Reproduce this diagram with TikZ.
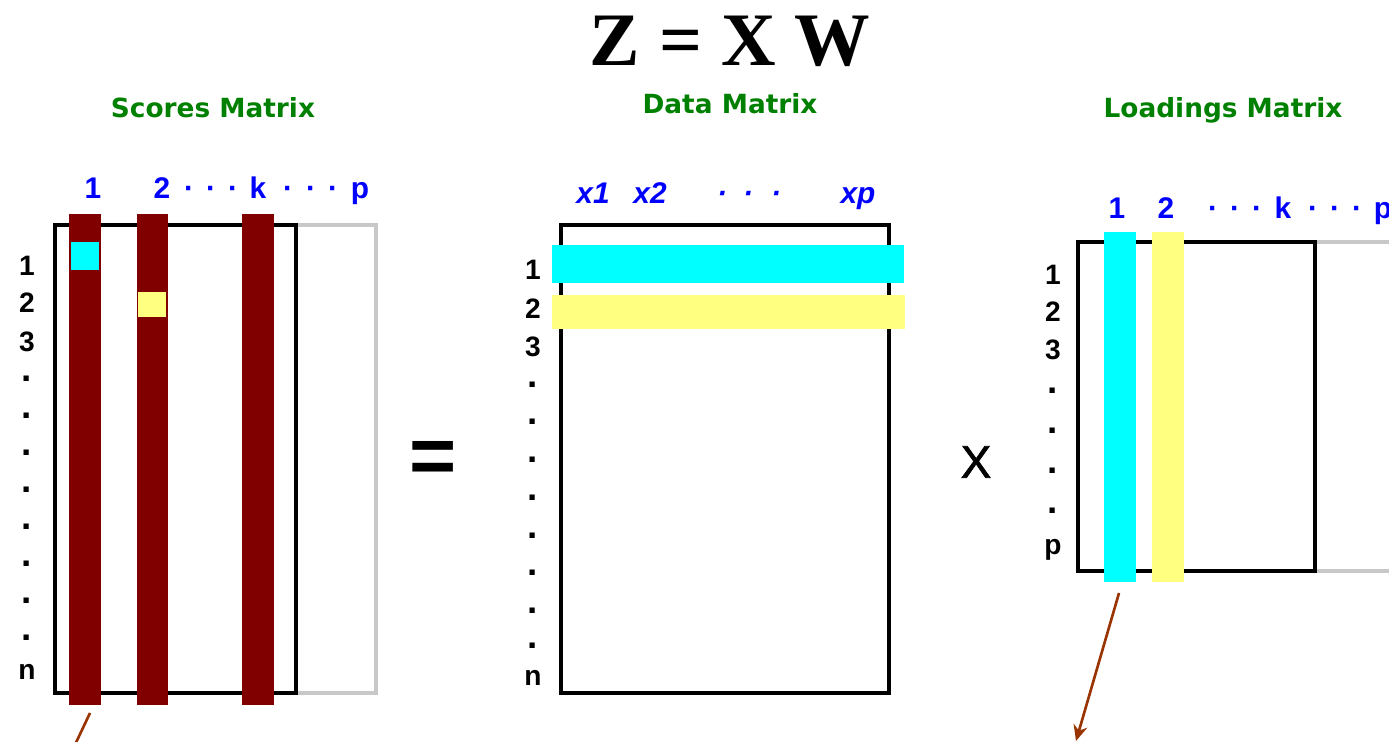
\documentclass[tikz,border=0pt]{standalone}
\usepackage{fontspec}
\setmainfont{Liberation Sans}
\newfontfamily\titlefont{Liberation Serif}
\newfontfamily\capfont{DejaVu Sans}
\usetikzlibrary{arrows.meta}
\definecolor{barred}{HTML}{800000}
\definecolor{scorecyan}{HTML}{00FFFF}
\definecolor{scoreyellow}{HTML}{FFFF80}
\definecolor{capgreen}{HTML}{008000}
\definecolor{ghostgrey}{HTML}{C8C8C8}
\definecolor{arrowbrown}{HTML}{993300}

\begin{document}
\begin{tikzpicture}[x=0.02cm, y=-0.02cm,
  hdr/.style={text=blue, font=\bfseries\fontsize{17}{17}\selectfont, inner sep=0pt, anchor=base},
  rowlbl/.style={font=\bfseries\fontsize{16}{16}\selectfont, inner sep=0pt, anchor=base},
  rowdot/.style={rowlbl, font=\bfseries\fontsize{21}{21}\selectfont},
  mtitle/.style={text=capgreen, font=\capfont\bfseries\fontsize{15}{15}\selectfont, inner sep=0pt, anchor=base},
  frame/.style={draw=black, line width=2pt},
  ghost/.style={draw=ghostgrey, line width=2pt},
  pointer/.style={-{Stealth[length=9pt,width=8pt]}, draw=arrowbrown, line width=1.5pt}]
  \useasboundingbox (0,0) rectangle (1389,741);

  % titles
  \node[inner sep=0pt, anchor=base, font=\titlefont\bfseries\fontsize{43}{43}\selectfont] (eqn) at (730,65) {Z = X W};
  \node[mtitle] (scorestitle) at (213,117) {Scores Matrix};
  \node[mtitle] (datatitle) at (730,113) {Data Matrix};
  \node[mtitle] (loadtitle) at (1223,117) {Loadings Matrix};

  % scores matrix
  \draw[ghost] (296,225) rectangle (376,693);
  \draw[frame] (55,225) rectangle (296,693);
  \fill[barred] (69,214) rectangle (101,705);
  \fill[barred] (137,214) rectangle (168,705);
  \fill[barred] (242,214) rectangle (274,705);
  \fill[scorecyan] (71,242) rectangle (99,270);
  \fill[scoreyellow] (138,292) rectangle (166,317);
  \foreach \t/\xx [count=\i] in {1/93, 2/162, ·/189, ·/211, ·/233, k/258, ·/288, ·/311, ·/333, p/360}
    \node[hdr] (shd\i) at (\xx,198) {\t};
  \node[rowlbl] (sr1) at (27,275) {1};
  \node[rowlbl] (sr2) at (27,312) {2};
  \node[rowlbl] (sr3) at (27,351) {3};
  \foreach \yy [count=\i] in {378,415,452,489,526,563,600,637}
    \node[rowdot] (srdot\i) at (27,\yy+3) {.};
  \node[rowlbl] (srn) at (27,679) {n};

  \node[inner sep=0pt, font=\bfseries\fontsize{46}{46}\selectfont] (equals) at (433,462) {=};

  % data matrix
  \draw[frame] (561,225) rectangle (889,693);
  \fill[scorecyan] (552,245) rectangle (904,283);
  \fill[scoreyellow] (552,295) rectangle (905,329);
  \foreach \t/\xx [count=\i] in {x1/593, x2/650, ·/722, ·/748, ·/776, xp/858}
    \node[hdr, font=\bfseries\itshape\fontsize{17}{17}\selectfont] (dhd\i) at (\xx,203) {\t};
  \node[rowlbl] (dr1) at (533,279) {1};
  \node[rowlbl] (dr2) at (533,318) {2};
  \node[rowlbl] (dr3) at (533,356) {3};
  \foreach \yy [count=\i] in {384,421,459,497,535,572,610,645}
    \node[rowdot] (drdot\i) at (533,\yy+3) {.};
  \node[rowlbl] (drn) at (533,685) {n};

  \node[inner sep=0pt, font=\fontsize{26}{26}\selectfont] (times) at (976,462) {\addfontfeature{FakeBold=1.5}X};

  % loadings matrix
  \draw[ghost] (1315,242) -- (1395,242);
  \draw[ghost] (1315,571) -- (1395,571);
  \draw[frame] (1078,242) rectangle (1315,571);
  \fill[scorecyan] (1104,232) rectangle (1136,582);
  \fill[scoreyellow] (1152,232) rectangle (1184,582);
  \foreach \t/\xx [count=\i] in {1/1117, 2/1166, ·/1213, ·/1235, ·/1257, k/1283, ·/1313, ·/1335, ·/1357, p/1383}
    \node[hdr] (lhd\i) at (\xx,218) {\t};
  \node[rowlbl] (lr1) at (1053,284) {1};
  \node[rowlbl] (lr2) at (1053,321) {2};
  \node[rowlbl] (lr3) at (1053,359) {3};
  \foreach \yy [count=\i] in {390,430,470,510}
    \node[rowdot] (lrdot\i) at (1053,\yy+3) {.};
  \node[rowlbl] (lrp) at (1053,554) {p};

  % pointers
  \coordinate (stail) at (90,713);
  \coordinate (shead) at (64,768);
  \coordinate (ltail) at (1119,593);
  \coordinate (lhead) at (1076,741);
  \draw[pointer] (stail) -- (shead);
  \draw[pointer] (ltail) -- (lhead);
\end{tikzpicture}
\end{document}
